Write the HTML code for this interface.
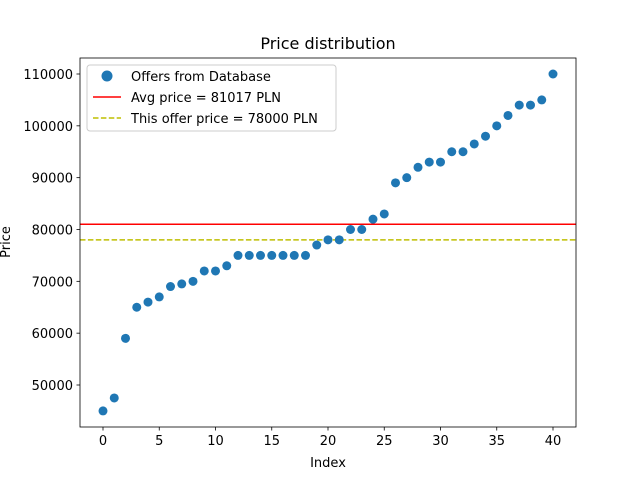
<!DOCTYPE html>
<html><head><meta charset="utf-8"><style>
body{margin:0;background:#fff}
text{font-family:"DejaVu Sans","Liberation Sans",sans-serif;fill:#000}
</style></head><body>
<svg id="chart" width="640" height="480" xmlns="http://www.w3.org/2000/svg">
<rect width="640" height="480" fill="#fff"/>
<g id="marks"></g>
<rect x="80" y="58" width="496" height="369" fill="none" stroke="#000" stroke-width="0.8"/>
<g id="xticks"></g><g id="yticks"></g>
<text x="328" y="49" font-size="16" text-anchor="middle">Price distribution</text>
<text x="328" y="467" font-size="13" text-anchor="middle">Index</text>
<text transform="translate(10,242) rotate(-90)" font-size="13" text-anchor="middle">Price</text>
<g>
<rect x="87" y="65" width="249" height="66" rx="3" fill="#fff" fill-opacity="0.8" stroke="#ccc"/>
<circle cx="107" cy="76" r="5.5" fill="#1f77b4"/>
<text x="131" y="81" font-size="13">Offers from Database</text>
<line x1="93" y1="97" x2="121" y2="97" stroke="red" stroke-width="1.5"/>
<text x="131" y="102" font-size="13">Avg price = 81017 PLN</text>
<line x1="93" y1="118" x2="121" y2="118" stroke="#bfbf00" stroke-width="1.5" stroke-dasharray="5.5,2.4"/>
<text x="131" y="123" font-size="13">This offer price = 78000 PLN</text>
</g>
</svg>
<script>
const prices=[45000,47500,59000,65000,66000,67000,69000,69500,70000,72000,72000,73000,75000,75000,75000,75000,75000,75000,75000,77000,78000,78000,80000,80000,82000,83000,89000,90000,92000,93000,93000,95000,95000,96500,98000,100000,102000,104000,104000,105000,110000];
const avgPrice=81017;
const offerPrice=78000;
const xTicks=[0,5,10,15,20,25,30,35,40];
const yTicks=[50000,60000,70000,80000,90000,100000,110000];
const NS="http://www.w3.org/2000/svg";
const X=i=>103+(i-0)*(553-103)/40;
const Y=v=>385-(v-50000)*(385-74)/60000;
function mk(t,a,p){const e=document.createElementNS(NS,t);for(const k in a)e.setAttribute(k,a[k]);p.appendChild(e);return e;}
const m=document.getElementById('marks');
let l=mk('line',{x1:80,x2:576,y1:Y(avgPrice),y2:Y(avgPrice),stroke:'red','stroke-width':1.5},m);


l=mk('line',{x1:80,x2:576,y1:Y(offerPrice),y2:Y(offerPrice),stroke:'#bfbf00','stroke-width':1.5,'stroke-dasharray':'5.5,2.4'},m);


prices.forEach((v,i)=>{const c=mk('circle',{cx:X(i),cy:Y(v),r:4.5,fill:'#1f77b4'},m);

});
const xt=document.getElementById('xticks');
xTicks.forEach(t=>{mk('line',{x1:X(t),x2:X(t),y1:427,y2:430.5,stroke:'#000','stroke-width':0.8},xt);
const s=mk('text',{x:X(t),y:445,'font-size':13,'text-anchor':'middle'},xt);s.textContent=t;

});
const yt=document.getElementById('yticks');
yTicks.forEach(t=>{mk('line',{x1:76.5,x2:80,y1:Y(t),y2:Y(t),stroke:'#000','stroke-width':0.8},yt);
const s=mk('text',{x:73,y:Y(t)+5,'font-size':13,'text-anchor':'end'},yt);s.textContent=t;

});
</script>
</body></html>
